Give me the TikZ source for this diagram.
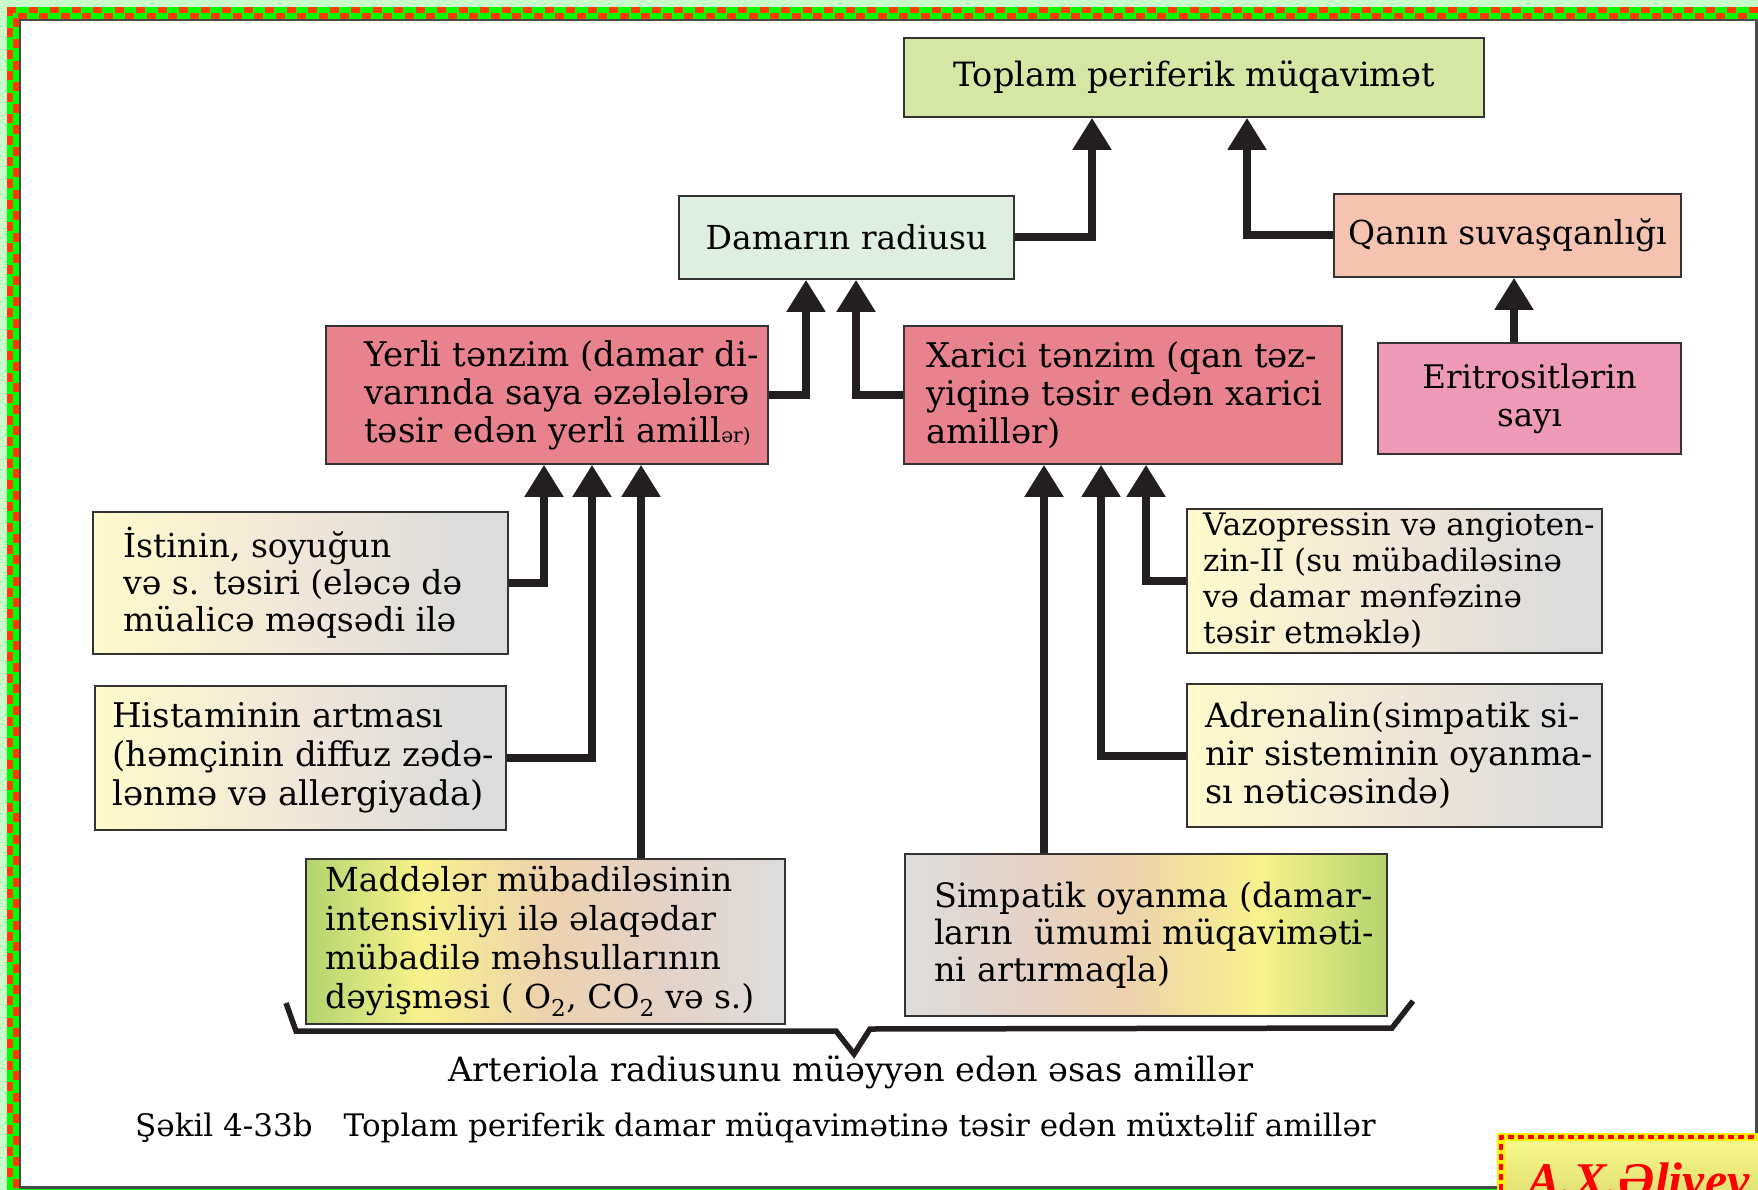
\documentclass[tikz,border=0pt]{standalone}
\usepackage{fontspec}
\setmainfont{DejaVu Serif}
\newfontfamily\authfont{Liberation Serif}
\usetikzlibrary{arrows.meta}
\definecolor{lineblack}{HTML}{231F20}
\definecolor{boxline}{HTML}{333333}
\definecolor{cToplam}{HTML}{D6E7A5}
\definecolor{cDamar}{HTML}{DEEEE1}
\definecolor{cQan}{HTML}{F5C3AF}
\definecolor{cRed}{HTML}{E8838E}
\definecolor{cPink}{HTML}{F09AB9}
\definecolor{ygA}{HTML}{FFFBCC}
\definecolor{ygB}{HTML}{F0E6D8}
\definecolor{ygC}{HTML}{DCDCDC}
\definecolor{mGreen}{HTML}{B3D46F}
\definecolor{mYellow}{HTML}{F8F28C}
\definecolor{mTan}{HTML}{EDD2AE}
\definecolor{mRose}{HTML}{E4D2C8}
\definecolor{mGray}{HTML}{DDDDDD}
\definecolor{bgGreen}{HTML}{C8FCC8}
\definecolor{chkGreen}{HTML}{00FF00}
\definecolor{chkRed}{HTML}{FF3A00}
\definecolor{frameGray}{HTML}{4A4A4A}
\definecolor{authA}{HTML}{FBFB8E}
\definecolor{authB}{HTML}{CFCB5E}
\definecolor{authRed}{HTML}{FF0000}
\pgfdeclarehorizontalshading{ygshade}{100bp}{color(0bp)=(ygA); color(25bp)=(ygA); color(50bp)=(ygB); color(70bp)=(ygC); color(75bp)=(ygC); color(100bp)=(ygC)}
\pgfdeclarehorizontalshading{maddeshade}{100bp}{color(0bp)=(mGreen); color(25bp)=(mGreen); color(37bp)=(mYellow); color(50bp)=(mTan); color(63bp)=(mRose); color(75bp)=(mGray); color(100bp)=(mGray)}
\pgfdeclarehorizontalshading{simpshade}{100bp}{color(0bp)=(mGray); color(25bp)=(mGray); color(37bp)=(mRose); color(48bp)=(mTan); color(62bp)=(mYellow); color(75bp)=(mGreen); color(100bp)=(mGreen)}
\newcommand\bxfont{\fontsize{33.5}{38}\selectfont}
\newcommand\capfont{\fontsize{31}{36}\selectfont}
\begin{document}
\begin{tikzpicture}[x=1pt,y=-1pt,
  bx/.style={draw=boxline, line width=1.6pt, inner sep=0pt},
  txt/.style={font=\bxfont, align=left, anchor=west, inner sep=0pt},
  conn/.style={draw=lineblack, line width=8pt, -{Triangle[width=37pt,length=32pt]}}]
\useasboundingbox (0,0) rectangle (1758,1190);
\clip (0,0) rectangle (1758,1190);
% frame
\fill[bgGreen] (0,0) rectangle (1758,1190);
\fill[chkGreen] (7,7) rectangle (1790,1220);
\draw[chkRed, line width=5.5pt, dash pattern=on 9pt off 12.5pt] (7,10) -- (1790,10);
\draw[chkRed, line width=5.5pt, dash pattern=on 9pt off 12.5pt, dash phase=10.75pt] (7,16) -- (1790,16);
\draw[chkRed, line width=5.5pt, dash pattern=on 9pt off 12.5pt] (10,7) -- (10,1220);
\draw[chkRed, line width=5.5pt, dash pattern=on 9pt off 12.5pt, dash phase=10.75pt] (16,7) -- (16,1220);
\filldraw[fill=white, draw=frameGray, line width=2.5pt] (20,20) rectangle (1756.5,1187.5);
% boxes
\node[bx, fill=cToplam, minimum width=580pt, minimum height=79pt, font=\bxfont] (toplam) at (1194,77.5) {Toplam periferik müqavimət};
\node[bx, fill=cDamar, minimum width=335pt, minimum height=83pt, font=\fontsize{33}{38}\selectfont] (damar) at (846.5,237.5) {Damarın radiusu};
\node[bx, fill=cQan, minimum width=347pt, minimum height=83pt, font=\fontsize{33}{38}\selectfont] (qan) at (1507.5,235.5) {Qanın suvaşqanlığı};
\node[bx, fill=cRed, minimum width=442pt, minimum height=138pt] (yerli) at (547,395) {};
\node[txt, font=\fontsize{34}{38}\selectfont] (yerlit) at (364,395) {Yerli tənzim (damar di-\\varında saya əzələlərə\\təsir edən yerli amill{\fontsize{20}{20}\selectfont ər)}};
\node[bx, fill=cRed, minimum width=438pt, minimum height=138pt] (xarici) at (1123,395) {};
\node[txt, font=\fontsize{34}{38}\selectfont] (xaricit) at (926,395) {Xarici tənzim (qan təz-\\yiqinə təsir edən xarici\\amillər)};
\node[bx, fill=cPink, minimum width=303pt, minimum height=111pt, font=\fontsize{32.5}{38}\selectfont, align=center] (eritro) at (1529.5,398.5) {Eritrositlərin\\sayı};
\node[bx, shade, shading=ygshade, minimum width=415pt, minimum height=142pt] (istinin) at (300.5,583) {};
\node[txt, font=\fontsize{33}{37}\selectfont] (istinint) at (123,583) {İstinin, soyuğun\\və s. təsiri (eləcə də\\müalicə məqsədi ilə};
\node[bx, shade, shading=ygshade, minimum width=411pt, minimum height=144pt] (hist) at (300.5,758) {};
\node[txt, font=\fontsize{34}{39}\selectfont] (histt) at (112,758) {Histaminin artması\\(həmçinin diffuz zədə-\\lənmə və allergiyada)};
\node[bx, shade, shading=maddeshade, minimum width=479pt, minimum height=165pt] (madde) at (545.5,941.5) {};
\node[txt, font=\fontsize{33}{39}\selectfont] (maddet) at (325,941.5) {Maddələr mübadiləsinin\\intensivliyi ilə əlaqədar\\mübadilə məhsullarının\\dəyişməsi ( O\textsubscript{2}, CO\textsubscript{2} və s.)};
\node[bx, shade, shading=ygshade, minimum width=415pt, minimum height=144pt] (vazo) at (1394.5,581) {};
\node[txt, font=\fontsize{31}{36}\selectfont] (vazot) at (1203,581) {Vazopressin və angioten-\\zin-II (su mübadiləsinə\\və damar mənfəzinə\\təsir etməklə)};
\node[bx, shade, shading=ygshade, minimum width=415pt, minimum height=143pt] (adren) at (1394.5,755.5) {};
\node[txt, font=\fontsize{33.5}{38}\selectfont] (adrent) at (1205,755.5) {Adrenalin(simpatik si-\\nir sisteminin oyanma-\\sı nəticəsində)};
\node[bx, shade, shading=simpshade, minimum width=482pt, minimum height=162pt] (simp) at (1146,935) {};
\node[txt, font=\fontsize{33.5}{37}\selectfont] (simpt) at (934,935) {Simpatik oyanma (damar-\\ların\ \ ümumi müqaviməti-\\ni artırmaqla)};
% connectors
\coordinate (k1) at (1092,0);
\coordinate (k2) at (1247,0);
\coordinate (k3) at (1514,0);
\coordinate (k4) at (806,0);
\coordinate (k5) at (856,0);
\coordinate (k6) at (544,0);
\coordinate (k7) at (592,0);
\coordinate (k8) at (641,0);
\coordinate (k9) at (1146,0);
\coordinate (k10) at (1101,0);
\coordinate (k11) at (1044,0);
\draw[conn] (damar.east) -| (k1 |- toplam.south);
\draw[conn] (qan.west) -| (k2 |- toplam.south);
\draw[conn] (k3 |- eritro.north) -- (k3 |- qan.south);
\draw[conn] (yerli.east) -| (k4 |- damar.south);
\draw[conn] (xarici.west) -| (k5 |- damar.south);
\draw[conn] (istinin.east) -| (k6 |- yerli.south);
\draw[conn] (hist.east) -| (k7 |- yerli.south);
\draw[conn] (k8 |- madde.north) -- (k8 |- yerli.south);
\draw[conn] (vazo.west) -| (k9 |- xarici.south);
\draw[conn] (adren.west) -| (k10 |- xarici.south);
\draw[conn] (k11 |- simp.north) -- (k11 |- xarici.south);
% brace
\draw[draw=lineblack, line width=5.5pt] (286,1003) -- (296,1031) -- (836,1031) -- (854,1054) -- (870,1029) -- (1392,1028) -- (1413,1001);
% captions
\node[font=\fontsize{33.5}{38}\selectfont, inner sep=0pt] (arteriola) at (851,1072) {Arteriola radiusunu müəyyən edən əsas amillər};
\node[font=\capfont, anchor=west, inner sep=0pt] (caption) at (135,1128) {Şəkil 4-33b\quad Toplam periferik damar müqavimətinə təsir edən müxtəlif amillər};
% author box
\path[top color=authA, bottom color=authB] (1497,1133) rectangle (1800,1240);
\draw[yellow, line width=8pt] (1501,1240) -- (1501,1137) -- (1800,1137);
\draw[authRed, line width=4pt, dash pattern=on 6pt off 4pt] (1501,1240) -- (1501,1137) -- (1800,1137);
\node[font=\authfont\bfseries\itshape\fontsize{50}{50}\selectfont, text=authRed, anchor=base west, inner sep=0pt] (author) at (1527,1197) {A.X.Əliyev};
\end{tikzpicture}
\end{document}
